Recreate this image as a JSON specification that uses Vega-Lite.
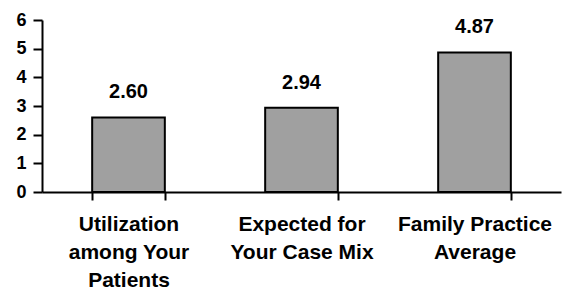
{
  "$schema": "https://vega.github.io/schema/vega-lite/v6.json",
  "autosize": {"type": "none"},
  "padding": {"left": 42, "top": 20, "right": 1, "bottom": 105},
  "width": 519,
  "height": 172,
  "background": "white",
  "config": {
    "view": {"stroke": null},
    "font": "Liberation Sans"
  },
  "data": {
    "values": [
      {"category": "Utilization|among Your|Patients", "value": 2.60, "label": "2.60"},
      {"category": "Expected for|Your Case Mix", "value": 2.94, "label": "2.94"},
      {"category": "Family Practice|Average", "value": 4.87, "label": "4.87"}
    ]
  },
  "encoding": {
    "x": {
      "field": "category",
      "type": "nominal",
      "sort": null,
      "scale": {"paddingInner": 0.58, "paddingOuter": 0.29},
      "axis": {
        "title": null,
        "labelAngle": 0,
        "labelExpr": "split(datum.label, '|')",
        "labelFont": "Liberation Sans",
        "labelFontWeight": "bold",
        "labelFontSize": 21,
        "labelLineHeight": 28,
        "labelColor": "black",
        "labelPadding": 13,
        "tickBand": "extent",
        "tickSize": 8,
        "tickWidth": 2,
        "tickColor": "black",
        "domainColor": "black",
        "domainWidth": 2,
        "grid": false
      }
    },
    "y": {
      "field": "value",
      "type": "quantitative",
      "scale": {"domain": [0, 6], "nice": false},
      "axis": {
        "title": null,
        "values": [0, 1, 2, 3, 4, 5, 6],
        "labelFont": "Liberation Sans",
        "labelFontWeight": 900,
        "labelFontSize": 18,
        "labelColor": "black",
        "labelPadding": 7,
        "tickSize": 9,
        "tickWidth": 2,
        "tickColor": "black",
        "domainColor": "black",
        "domainWidth": 2,
        "grid": false
      }
    }
  },
  "layer": [
    {
      "mark": {"type": "bar", "color": "#a0a0a0", "stroke": "black", "strokeWidth": 2}
    },
    {
      "mark": {"type": "text", "font": "Liberation Sans", "fontWeight": "bold", "fontSize": 20, "baseline": "alphabetic", "dy": -19, "color": "black"},
      "encoding": {"text": {"field": "label"}}
    }
  ]
}
